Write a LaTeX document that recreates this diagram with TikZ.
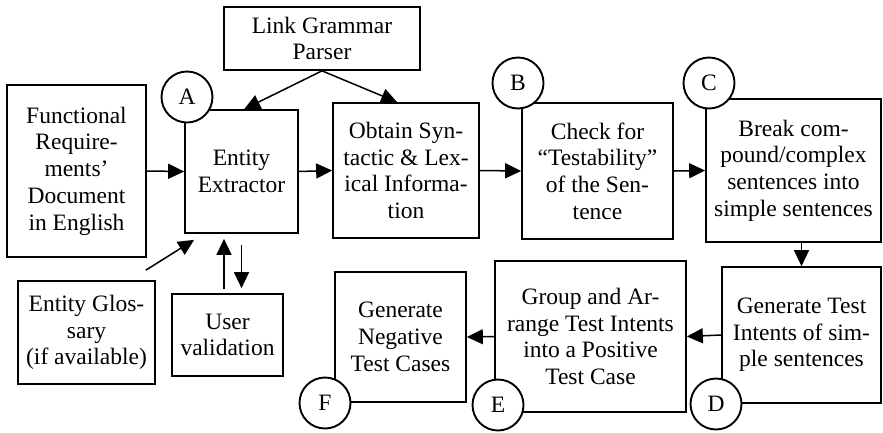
\documentclass[tikz,border=0pt]{standalone}
\usepackage{fontspec}
\setmainfont{Liberation Serif}
\usetikzlibrary{arrows.meta}
\begin{document}
\begin{tikzpicture}[x=1pt,y=-1pt,
  every node/.style={font=\fontsize{23.5}{26.7}\selectfont},
  procbox/.style={draw, line width=1.7pt, align=center, inner sep=0pt, fill=white},
  tag/.style={draw, circle, line width=1.9pt, fill=white, minimum size=51pt, inner sep=0pt},
  arr/.style={line width=1.5pt, -{Triangle[length=16pt,width=15pt]}}]
\useasboundingbox (0,0) rectangle (883,432);
% boxes
\node[procbox, minimum width=139pt, minimum height=172pt] (FR) at (76.5,171) {Functional\\Require-\\ments’\\Document\\in English};
\node[procbox, minimum width=113pt, minimum height=123pt] (EE) at (241.5,171.5) {Entity\\Extractor};
\node[procbox, minimum width=146pt, minimum height=135pt] (OB) at (406,170.5) {Obtain Syn-\\tactic \& Lex-\\ical Informa-\\tion};
\node[procbox, minimum width=151pt, minimum height=136pt] (CK) at (597.5,171) {Check for\\“Testability”\\of the Sen-\\tence};
\node[procbox, minimum width=175pt, minimum height=143pt] (BR) at (793.5,170.5) {Break com-\\pound/complex\\sentences into\\simple sentences};
\node[procbox, minimum width=159pt, minimum height=136pt] (GT) at (801.5,335) {Generate Test\\Intents of sim-\\ple sentences};
\node[procbox, minimum width=191pt, minimum height=151pt] (GR) at (590.5,336.5) {Group and Ar-\\range Test Intents\\into a Positive\\Test Case};
\node[procbox, minimum width=131pt, minimum height=130pt] (NG) at (400.5,337) {Generate\\Negative\\Test Cases};
\node[procbox, minimum width=137pt, minimum height=103pt] (GL) at (86.5,332.5) {Entity Glos-\\sary\\(if available)};
\node[procbox, minimum width=111pt, minimum height=82pt] (UV) at (227.5,335) {User\\validation};
\node[procbox, minimum width=196pt, minimum height=63pt] (LG) at (322,38.5) {Link Grammar\\Parser};
% tags
\node[tag] (tA) at (187,97) {A};
\node[tag] (tB) at (518,83) {B};
\node[tag] (tC) at (709,83) {C};
\node[tag] (tD) at (716,404) {D};
\node[tag] (tE) at (498,405) {E};
\node[tag] (tF) at (325,403) {F};
% helper coordinates
\coordinate (lgL) at ([xshift=60pt]EE.north west);
\coordinate (lgR) at ([xshift=65pt]OB.north west);
\coordinate (glS) at ([xshift=-10pt,yshift=10pt]GL.north east);
\coordinate (glE) at ([xshift=10pt,yshift=-6pt]EE.south west);
\coordinate (upS) at ([xshift=-3.5pt,yshift=4pt]UV.north);
\coordinate (upE) at ([xshift=-17.5pt,yshift=-5pt]EE.south);
\coordinate (dnS) at ([yshift=-11pt]EE.south);
\coordinate (dnE) at ([xshift=14pt,yshift=5pt]UV.north);
% connectors
\draw[arr] (FR.east) -- (EE.west);
\draw[arr] (EE.east) -- (OB.west);
\draw[arr] (OB.east) -- (CK.west);
\draw[arr] (CK.east) -- (BR.west);
\draw[arr] (GT.north |- BR.south) -- (GT.north);
\draw[arr] (GT.west) -- (GR.east);
\draw[arr] (GR.west) -- (NG.east);
\draw[arr] (LG.south) -- (lgL);
\draw[arr] (LG.south) -- (lgR);
\draw[arr] (glS) -- (glE);
\draw[arr] (upS) -- (upE);
\draw[arr] (dnS) -- (dnE);
\end{tikzpicture}
\end{document}
